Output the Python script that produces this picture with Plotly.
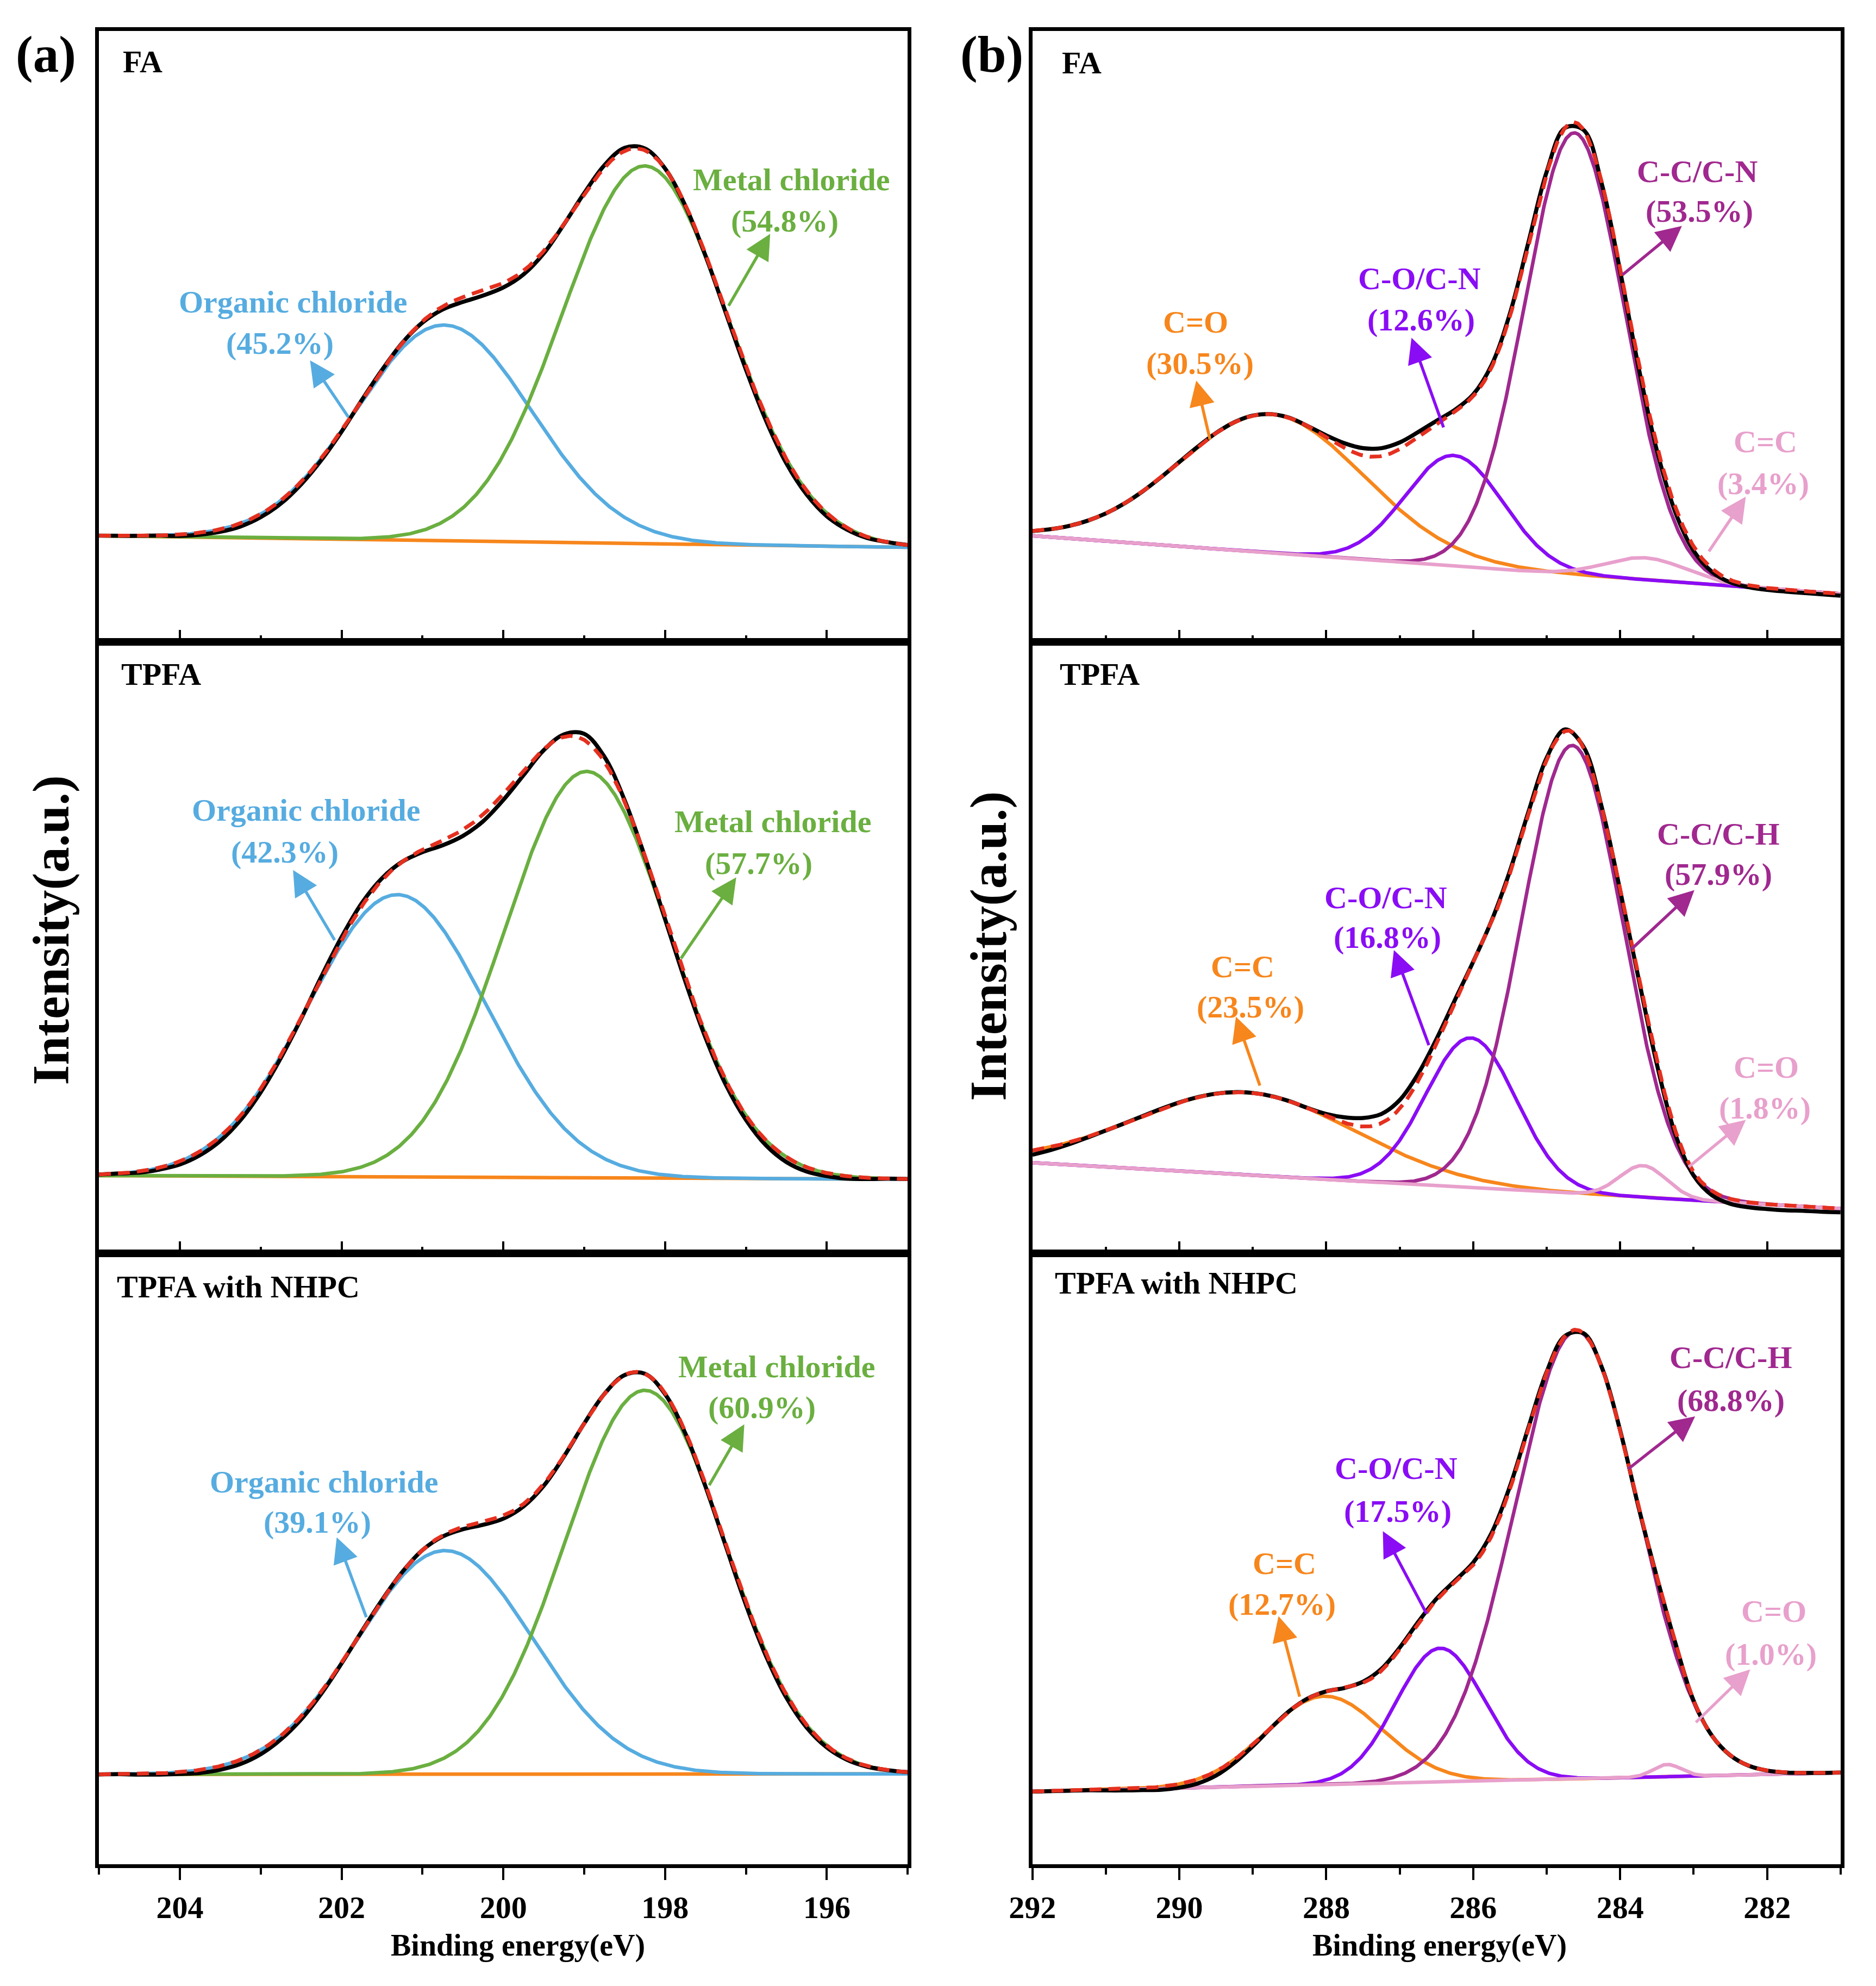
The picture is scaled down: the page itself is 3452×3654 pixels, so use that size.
import numpy as np
import plotly.graph_objects as go

FONT = "Liberation Serif"

# ---------------- data ----------------
sample_names = ["FA", "TPFA", "TPFA with NHPC"]

# (a) Cl 2p : two components per sample
cl_components = ["Organic chloride", "Metal chloride"]
cl_percent = [[45.2, 54.8], [42.3, 57.7], [39.1, 60.9]]
cl_center_ev = [[200.73, 198.25], [201.31, 198.97], [200.72, 198.25]]
cl_fwhm_ev = [[2.55, 2.40], [2.60, 2.40], [2.55, 2.32]]
cl_height = [[35.3, 61.8], [46.2, 66.5], [36.6, 62.8]]
cl_background = [[17.4, 15.5], [12.7, 12.1], [14.7, 14.8]]  # at 205 eV, 195 eV
# measured spectrum minus fit, sampled every 0.25 eV from 205 to 195 eV
cl_raw_residual = [
    [0, 0, 0, 0, -0.2, -0.3, -0.4, -0.5, -0.5, -0.5,
     -0.4, -0.3, -0.2, 0, 0, 0, -0.2, -0.5, -0.8, -0.8,
     -0.7, -0.6, -0.4, 0, 0.2, 0.4, 0.5, 0.3, 0, -0.2,
     -0.3, -0.4, -0.5, -0.6, -0.7, -0.6, -0.5, -0.3, -0.2, 0,
     0],
    [0, 0, -0.2, -0.3, -0.5, -0.6, -0.7, -0.7, -0.6, -0.4,
     -0.2, 0.2, 0.4, 0.5, 0.3, 0, -0.4, -0.8, -1.0, -1.1,
     -1.0, -0.8, -0.2, 0.4, 1.0, 0.8, 0.2, -0.2, -0.4, -0.5,
     -0.6, -0.7, -0.7, -0.8, -0.8, -0.7, -0.5, -0.4, -0.2, 0,
     0],
    [0, 0, -0.1, -0.2, -0.3, -0.5, -0.6, -0.7, -0.7, -0.6,
     -0.5, -0.3, -0.1, 0, 0, 0, 0, -0.2, -0.4, -0.5,
     -0.5, -0.4, -0.3, -0.1, 0, 0, 0, 0, -0.2, -0.3,
     -0.4, -0.4, -0.5, -0.5, -0.5, -0.4, -0.3, -0.2, -0.1, 0,
     0],
]

# (b) C 1s : four components per sample
c_components = [["C=O", "C-O/C-N", "C-C/C-N", "C=C"],
                ["C=C", "C-O/C-N", "C-C/C-H", "C=O"],
                ["C=C", "C-O/C-N", "C-C/C-H", "C=O"]]
c_percent = [[30.5, 12.6, 53.5, 3.4], [23.5, 16.8, 57.9, 1.8], [12.7, 17.5, 68.8, 1.0]]
c_center_ev = [[288.75, 286.26, 284.62, 283.65],
               [289.10, 286.03, 284.65, 283.69],
               [288.03, 286.45, 284.60, 283.36]]
c_fwhm_ev = [[2.95, 1.57, 1.60, 1.30],
             [3.50, 1.45, 1.62, 0.75],
             [1.87, 1.41, 1.98, 0.45]]
c_height = [[22.7, 18.1, 72.3, 3.6],
            [13.5, 24.5, 73.3, 5.2],
            [14.5, 21.9, 73.3, 2.0]]
c_background = [[17.4, 7.9], [14.8, 7.3], [11.9, 15.0]]  # at 292 eV, 281 eV
# measured spectrum minus fit, sampled every 0.25 eV from 292 to 281 eV
c_raw_residual = [
    [0, 0, 0, 0, 0, 0, 0, 0, 0, 0, 0, 0, 0, 0, 0, 0,
     0.3, 0.8, 1.2, 1.3, 1.1, 0.8, 0.5, 0.3, 0.3, 0.4,
     0.5, 0.5, 0.3, 0, 0, -0.3, -0.5, -0.7, -0.8, -0.8,
     -0.7, -0.5, -0.4, -0.3, -0.3, -0.3, -0.3, -0.3, -0.3],
    [-0.7, -0.5, -0.3, -0.1, 0, 0, 0, 0, 0, 0, 0, 0, 0, 0, 0, 0,
     0.3, 0.9, 1.4, 1.5, 1.4, 1.2, 0.8, 0.5, 0.3, 0.3,
     0.4, 0.4, 0.3, 0.3, 0.2, 0, -0.3, -0.5, -0.6, -0.6,
     -0.6, -0.7, -0.8, -0.8, -0.8, -0.8, -0.7, -0.7, -0.6],
    [0, 0, 0, 0, -0.1, -0.2, -0.3, -0.5, -0.6, -0.7,
     -0.7, -0.5, -0.3, -0.1, 0, 0, 0, 0, 0.2, 0.3,
     0.3, 0.2, 0.2, 0.3, 0.4, 0.5, 0.5, 0.3, 0.1, 0,
     0, 0, 0, 0, 0, 0, 0, 0, 0, 0, 0, 0, 0, 0, 0],
]

# ---------------- styles / placement ----------------
CL_COLORS = ["#56ACE0", "#6AAF40"]
CL_BASE_COLOR = "#F7861C"
C_COLORS = ["#F7861C", "#8A0CF5", "#A0288F", "#E8A0CC"]
RED = "#E5301F"

CL_RANGE = (205, 195)
C_RANGE = (292, 281)

W, H = 3452, 3654


def PX(x):
    """target pixel column -> paper fraction"""
    return ((x - 40.0) / 0.9938) / W


def PY(y):
    """target pixel row (from top) -> paper fraction"""
    return 1 - ((y + 5.4) / 1.0068) / H


X_DOM = [[PX(179), PX(1677)], [PX(1908), PX(3405)]]
Y_DOM = [[PY(1184), PY(52)], [PY(2316), PY(1184)], [PY(3448), PY(2316)]]

name_pos = [[(204.72, 95.0), (291.61, 94.8)],
            [(204.74, 94.7), (291.64, 94.7)],
            [(204.79, 94.5), (291.71, 95.1)]]

# label (name centre, percent centre, arrow tail, arrow head) per component
cl_label_place = [
    [((202.60, 55.7), (202.76, 48.9), (201.91, 36.7), (202.39, 46.1)),
     ((196.44, 75.7), (196.52, 68.9), (197.22, 54.9), (196.70, 66.8))],
    [((202.44, 72.5), (202.70, 65.7), (202.08, 51.1), (202.60, 62.7)),
     ((196.67, 70.6), (196.84, 63.8), (197.81, 48.1), (197.12, 61.5))],
    [((202.22, 62.6), (202.30, 56.0), (201.69, 40.3), (202.06, 53.5)),
     ((196.62, 81.4), (196.80, 74.8), (197.46, 61.9), (197.02, 72.0))],
]
c_label_place = [
    [((289.78, 52.4), (289.72, 45.6), (289.58, 33.0), (289.77, 42.8)),
     ((286.73, 59.5), (286.71, 52.7), (286.40, 35.0), (286.84, 49.8)),
     ((282.95, 77.0), (282.92, 70.5), (283.98, 60.0), (283.16, 68.1)),
     ((282.02, 32.8), (282.05, 26.0), (282.80, 14.7), (282.29, 23.8))],
    [((289.14, 46.9), (289.03, 40.3), (288.90, 27.3), (289.23, 38.7)),
     ((287.19, 58.2), (287.17, 51.7), (286.60, 33.9), (287.08, 49.6)),
     ((282.66, 68.6), (282.66, 62.0), (283.86, 49.6), (282.99, 59.4)),
     ((282.01, 30.4), (282.03, 23.8), (283.08, 14.0), (282.29, 21.8))],
    [((288.57, 49.2), (288.60, 42.6), (288.36, 27.3), (288.65, 40.6)),
     ((287.05, 64.8), (287.03, 57.8), (286.63, 40.9), (287.23, 54.5)),
     ((282.49, 82.9), (282.49, 75.9), (283.90, 64.6), (282.98, 73.3)),
     ((281.91, 41.4), (281.95, 34.4), (282.98, 23.1), (282.23, 31.9))],
]


def gauss(x, c, w, h):
    return h * np.exp(-4 * np.log(2) * (x - c) ** 2 / w ** 2)


def background(x, rng, b):
    return b[0] + (b[1] - b[0]) * (rng[0] - x) / (rng[0] - rng[1])


fig = go.Figure()
annotations = []


def axis_ids(k):
    return ("x" if k == 1 else f"x{k}"), ("y" if k == 1 else f"y{k}")


def add_label(xr, yr, text, color, place):
    (nx, ny), (px, py), (tx, ty), (hx, hy) = place
    for (x, y, t) in ((nx, ny, text[0]), (px, py, text[1])):
        annotations.append(dict(x=x, y=y, xref=xr, yref=yr, text=t, showarrow=False,
                                xanchor="center", yanchor="middle",
                                font=dict(family=FONT, size=58, color=color, weight="bold")))
    annotations.append(dict(x=hx, y=hy, ax=tx, ay=ty, xref=xr, yref=yr, axref=xr, ayref=yr,
                            text="", showarrow=True, arrowhead=2, arrowsize=1.7,
                            arrowwidth=5.5, arrowcolor=color, standoff=0, startstandoff=0))


LW_COMP, LW_RAW, LW_FIT = 6.5, 7.5, 7
DASH = "22px,13px"

for r in range(3):
    # ---------- left: Cl 2p ----------
    k = 2 * r + 1
    xr, yr = axis_ids(k)
    xf = np.linspace(CL_RANGE[0], CL_RANGE[1], 1001)
    xs = np.arange(CL_RANGE[0], CL_RANGE[1] - 0.01, -0.25)
    base_f = background(xf, CL_RANGE, cl_background[r])
    base_s = background(xs, CL_RANGE, cl_background[r])
    comps_f = [gauss(xf, c, w, h) for c, w, h in zip(cl_center_ev[r], cl_fwhm_ev[r], cl_height[r])]
    comps_s = [gauss(xs, c, w, h) for c, w, h in zip(cl_center_ev[r], cl_fwhm_ev[r], cl_height[r])]
    fig.add_trace(go.Scatter(x=xf, y=base_f, mode="lines", xaxis=xr, yaxis=yr,
                             line=dict(color=CL_BASE_COLOR, width=LW_COMP)))
    for i in range(2):
        fig.add_trace(go.Scatter(x=xf, y=base_f + comps_f[i], mode="lines", xaxis=xr, yaxis=yr,
                                 line=dict(color=CL_COLORS[i], width=LW_COMP)))
    raw = base_s + sum(comps_s) + np.array(cl_raw_residual[r])
    fig.add_trace(go.Scatter(x=xs, y=raw, mode="lines", xaxis=xr, yaxis=yr,
                             line=dict(color="black", width=LW_RAW, shape="spline")))
    fig.add_trace(go.Scatter(x=xf, y=base_f + sum(comps_f), mode="lines", xaxis=xr, yaxis=yr,
                             line=dict(color=RED, width=LW_FIT, dash=DASH)))
    annotations.append(dict(x=name_pos[r][0][0], y=name_pos[r][0][1], xref=xr, yref=yr,
                            text=sample_names[r], showarrow=False, xanchor="left", yanchor="middle",
                            font=dict(family=FONT, size=58, color="black", weight="bold")))
    for i in range(2):
        add_label(xr, yr, (cl_components[i], f"({cl_percent[r][i]:.1f}%)"), CL_COLORS[i],
                  cl_label_place[r][i])

    # ---------- right: C 1s ----------
    k = 2 * r + 2
    xr, yr = axis_ids(k)
    xf = np.linspace(C_RANGE[0], C_RANGE[1], 1101)
    xs = np.arange(C_RANGE[0], C_RANGE[1] - 0.01, -0.25)
    base_f = background(xf, C_RANGE, c_background[r])
    base_s = background(xs, C_RANGE, c_background[r])
    comps_f = [gauss(xf, c, w, h) for c, w, h in zip(c_center_ev[r], c_fwhm_ev[r], c_height[r])]
    comps_s = [gauss(xs, c, w, h) for c, w, h in zip(c_center_ev[r], c_fwhm_ev[r], c_height[r])]
    for i in range(4):
        fig.add_trace(go.Scatter(x=xf, y=base_f + comps_f[i], mode="lines", xaxis=xr, yaxis=yr,
                                 line=dict(color=C_COLORS[i], width=LW_COMP)))
    raw = base_s + sum(comps_s) + np.array(c_raw_residual[r])
    fig.add_trace(go.Scatter(x=xs, y=raw, mode="lines", xaxis=xr, yaxis=yr,
                             line=dict(color="black", width=LW_RAW, shape="spline")))
    fig.add_trace(go.Scatter(x=xf, y=base_f + sum(comps_f), mode="lines", xaxis=xr, yaxis=yr,
                             line=dict(color=RED, width=LW_FIT, dash=DASH)))
    annotations.append(dict(x=name_pos[r][1][0], y=name_pos[r][1][1], xref=xr, yref=yr,
                            text=sample_names[r], showarrow=False, xanchor="left", yanchor="middle",
                            font=dict(family=FONT, size=58, color="black", weight="bold")))
    for i in range(4):
        add_label(xr, yr, (c_components[r][i], f"({c_percent[r][i]:.1f}%)"), C_COLORS[i],
                  c_label_place[r][i])

layout = {}
for r in range(3):
    for col in range(2):
        k = 2 * r + col + 1
        xname = "xaxis" if k == 1 else f"xaxis{k}"
        yname = "yaxis" if k == 1 else f"yaxis{k}"
        xa, ya = axis_ids(k)
        tick_dir = "outside" if r == 2 else "inside"
        layout[xname] = dict(
            domain=X_DOM[col], anchor=ya,
            range=list(CL_RANGE if col == 0 else C_RANGE),
            showline=True, linewidth=7, linecolor="black", mirror=True,
            ticks=tick_dir, ticklen=22, tickwidth=4, tickcolor="black",
            tick0=0, dtick=2,
            minor=dict(dtick=1, tick0=0, ticks=tick_dir, ticklen=12, tickwidth=4,
                       tickcolor="black", showgrid=False),
            showticklabels=(r == 2),
            tickfont=dict(family=FONT, size=58, color="black", weight="bold"),
            showgrid=False, zeroline=False,
        )
        layout[yname] = dict(
            domain=Y_DOM[r], anchor=xa, range=[0, 100],
            showline=True, linewidth=7, linecolor="black", mirror=True,
            ticks="", showticklabels=False, showgrid=False, zeroline=False,
        )

title_font = dict(family=FONT, size=56, color="black", weight="bold")
big_font = dict(family=FONT, size=95, color="black", weight="bold")
annotations += [
    dict(x=PX(955), y=PY(3598), xref="paper", yref="paper",
         text="Binding energy(eV)", showarrow=False, xanchor="center", yanchor="middle", font=title_font),
    dict(x=PX(2662), y=PY(3598), xref="paper", yref="paper",
         text="Binding energy(eV)", showarrow=False, xanchor="center", yanchor="middle", font=title_font),
    dict(x=PX(90), y=PY(1718), xref="paper", yref="paper", textangle=-90,
         text="Intensity(a.u.)", showarrow=False, xanchor="center", yanchor="middle", font=big_font),
    dict(x=PX(1826), y=PY(1747), xref="paper", yref="paper", textangle=-90,
         text="Intensity(a.u.)", showarrow=False, xanchor="center", yanchor="middle", font=big_font),
    dict(x=PX(81), y=PY(95), xref="paper", yref="paper",
         text="(a)", showarrow=False, xanchor="center", yanchor="middle", font=big_font),
    dict(x=PX(1833), y=PY(95), xref="paper", yref="paper",
         text="(b)", showarrow=False, xanchor="center", yanchor="middle", font=big_font),
]

fig.update_layout(
    width=W, height=H,
    margin=dict(l=0, r=0, t=0, b=0),
    paper_bgcolor="white", plot_bgcolor="white",
    showlegend=False,
    annotations=annotations,
    **layout,
)

fig.write_html("out.html", config={"displayModeBar": False},
               post_script="document.body.style.margin='0px';")
